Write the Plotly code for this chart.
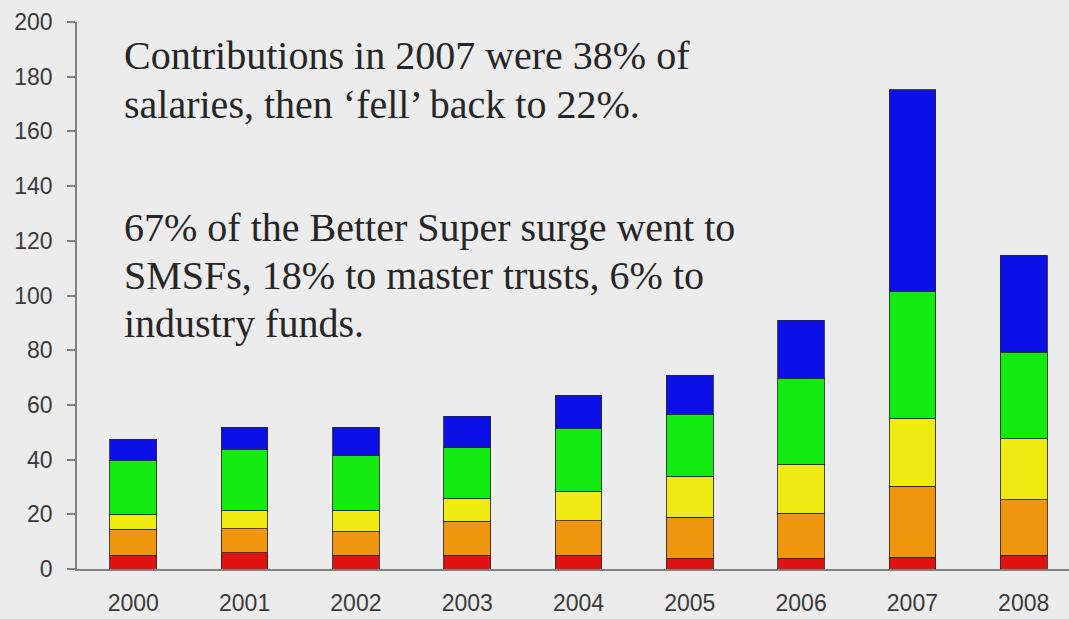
import plotly.graph_objects as go

years = ["2000", "2001", "2002", "2003", "2004", "2005", "2006", "2007", "2008"]
red = [5.1, 6.0, 5.1, 5.1, 5.1, 3.9, 3.9, 4.3, 5.1]
orange = [9.5, 8.8, 8.5, 12.4, 12.5, 15.0, 16.4, 26.0, 20.3]
yellow = [5.5, 6.7, 7.9, 8.3, 10.6, 15.0, 18.0, 24.9, 22.3]
green = [19.4, 22.2, 20.0, 18.5, 23.1, 22.6, 31.5, 46.3, 31.6]
blue = [8.0, 8.2, 10.4, 11.5, 12.2, 14.3, 21.1, 73.7, 35.5]

y_ticks = [0, 20, 40, 60, 80, 100, 120, 140, 160, 180, 200]

text_lines = [
    "Contributions in 2007 were 38% of",
    "salaries, then \u2018fell\u2019 back to 22%.",
    "67% of the Better Super surge went to",
    "SMSFs, 18% to master trusts, 6% to",
    "industry funds.",
]
text_y = [0.938, 0.850, 0.624, 0.536, 0.449]

series = [
    (red, "#e01212"),
    (orange, "#f0960e"),
    (yellow, "#eeea12"),
    (green, "#12ea12"),
    (blue, "#0c10e6"),
]

BG = "#ececec"

fig = go.Figure()
for vals, col in series:
    fig.add_trace(go.Bar(
        x=years, y=vals,
        marker=dict(color=col, line=dict(color="rgba(40,40,40,0.85)", width=1)),
        showlegend=False,
    ))

for t, yy in zip(text_lines, text_y):
    fig.add_annotation(
        text=t, xref="paper", yref="paper", x=0.045, y=yy,
        xanchor="left", yanchor="middle", showarrow=False,
        font=dict(family="Liberation Serif", size=40, color="#262626"),
    )

fig.update_layout(
    width=1069, height=619,
    margin=dict(l=77, r=0, t=22, b=50, autoexpand=False),
    paper_bgcolor=BG, plot_bgcolor=BG,
    barmode="stack", bargap=0.58,
    font=dict(family="Liberation Sans", color="#3a3a3a"),
)
fig.update_xaxes(
    type="category", range=[-0.506, 8.407], automargin=False,
    showgrid=False, showline=True, linecolor="#808080", linewidth=1.5,
    ticks="", tickfont=dict(size=23, color="#3a3a3a"), ticklabelstandoff=13,
)
fig.update_yaxes(
    range=[0, 200], tickvals=y_ticks, showgrid=False, zeroline=False,
    automargin=False,
    showline=True, linecolor="#808080", linewidth=1.5,
    ticks="outside", ticklen=8, tickwidth=1.5, tickcolor="#808080",
    tickfont=dict(size=23, color="#3a3a3a"), ticklabelstandoff=10,
)

fig.write_html(
    "out.html",
    config={"displayModeBar": False},
    post_script="document.body.style.margin='0';document.body.style.background='%s';" % BG,
)
